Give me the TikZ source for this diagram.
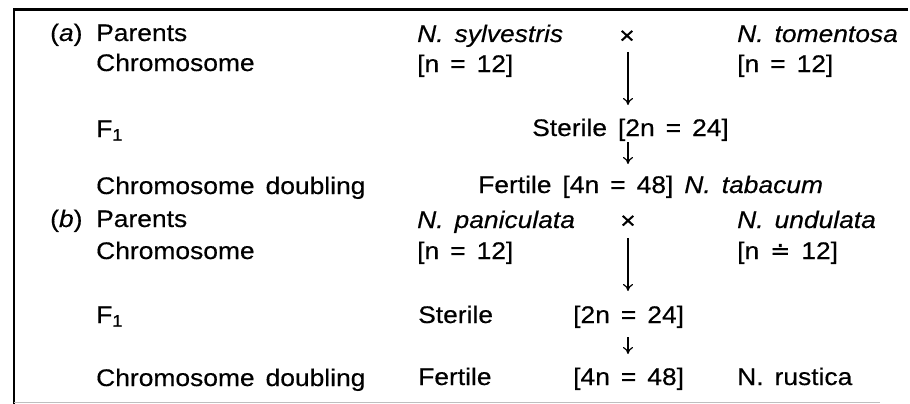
\documentclass[tikz,border=0pt]{standalone}
\usepackage{fontspec}
\setmainfont{Liberation Sans}[FakeStretch=1.1,WordSpace=1.5,FakeBold=0.4]
\newfontfamily\dejavu{DejaVu Sans}[FakeBold=0.4]
\usetikzlibrary{arrows.meta}
\begin{document}
\begin{tikzpicture}[x=1pt,y=-1pt,
  lbl/.style={anchor=base west, inner sep=0pt, font=\fontsize{24}{28}\selectfont},
  crs/.style={anchor=center, inner sep=0pt, font=\fontsize{24}{28}\selectfont},
  arr/.style={line width=1.2pt, -{To[length=7pt,width=10pt]}},
  frame/.style={line width=2.4pt},
  faint/.style={line width=1pt, draw=black!25}]
\useasboundingbox (0,0) rectangle (910,404);
% frame
\coordinate (tl) at (14,9.5);
\coordinate (tr) at (908,9.5);
\coordinate (bl) at (14,404);
\coordinate (fbl) at (14,402.5);
\coordinate (fbr) at (880,402.5);
\draw[frame] (tr) -- (tl) -- (bl);
\draw[faint] (fbl) -- (fbr);
% (a)
\node[lbl] (la) at (50,41) {(\textit{a})};
\node[lbl] (pa) at (96,41) {Parents};
\node[lbl] (ca) at (96,71) {Chromosome};
\node[lbl] (fa) at (96,137) {F\textsubscript{1}};
\node[lbl] (da) at (96,194) {Chromosome doubling};
\node[lbl] (p1a) at (417,42) {\textit{N. sylvestris}};
\node[crs] (xa) at (627,37) {×};
\node[lbl] (p2a) at (737,42) {\textit{N. tomentosa}};
\node[lbl] (n1a) at (417,72) {[n = 12]};
\node[lbl] (n2a) at (737,72) {[n = 12]};
\node[lbl] (sa) at (532,136) {Sterile [2n = 24]};
\node[lbl] (ea) at (478,193) {Fertile [4n = 48] \textit{N. tabacum}};
\coordinate (a1s) at (628,52);
\coordinate (a1e) at (628,105);
\coordinate (a2s) at (628,142);
\coordinate (a2e) at (628,164);
\draw[arr] (a1s) -- (a1e);
\draw[arr] (a2s) -- (a2e);
% (b)
\node[lbl] (lb) at (50,227) {(\textit{b})};
\node[lbl] (pb) at (96,227) {Parents};
\node[lbl] (cb) at (96,259) {Chromosome};
\node[lbl] (fb) at (96,323) {F\textsubscript{1}};
\node[lbl] (db) at (96,386) {Chromosome doubling};
\node[lbl] (p1b) at (417,228) {\textit{N. paniculata}};
\node[crs] (xb) at (628,222) {×};
\node[lbl] (p2b) at (737,228) {\textit{N. undulata}};
\node[lbl] (n1b) at (417,259) {[n = 12]};
\node[lbl] (n2b) at (737,259) {[n {\dejavu ≐} 12]};
\node[lbl] (sb) at (418,323) {Sterile};
\node[lbl] (sb2) at (573,323) {[2n = 24]};
\node[lbl] (eb) at (418,385) {Fertile};
\node[lbl] (eb2) at (573,385) {[4n = 48]};
\node[lbl] (rb) at (737,385) {N. rustica};
\coordinate (b1s) at (628,238);
\coordinate (b1e) at (628,291);
\coordinate (b2s) at (628,337);
\coordinate (b2e) at (628,354);
\draw[arr] (b1s) -- (b1e);
\draw[arr] (b2s) -- (b2e);
\end{tikzpicture}
\end{document}
